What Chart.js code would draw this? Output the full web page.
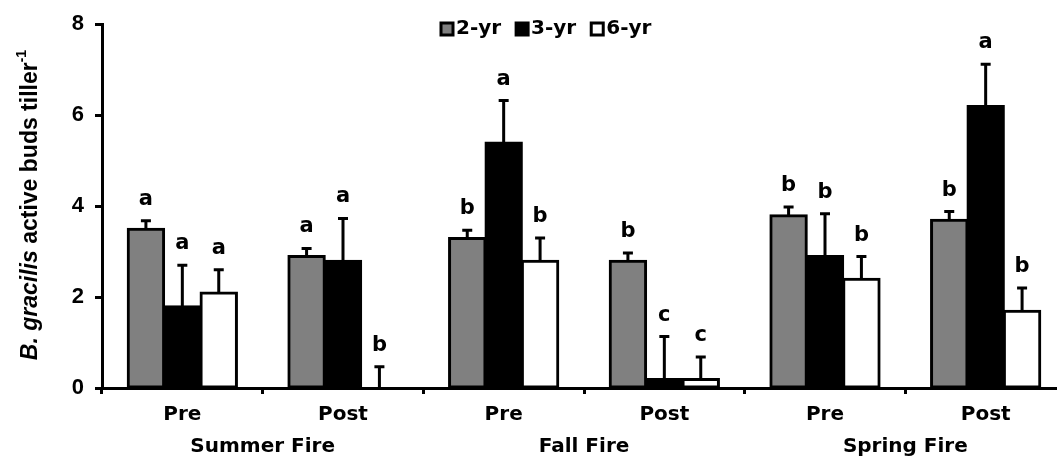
<!DOCTYPE html>
<html>
<head>
<meta charset="utf-8">
<script src="https://cdn.jsdelivr.net/npm/chart.js@4"></script>
<style>
  html, body { margin: 0; padding: 0; background: #fff; overflow: hidden; }
  #wrap { width: 1057px; height: 461px; overflow: hidden; }
</style>
</head>
<body>
<div id="wrap"><canvas id="barChart" width="1066" height="461"></canvas></div>
<script>
// category labels
const periods = ['Pre', 'Post', 'Pre', 'Post', 'Pre', 'Post'];
const fires = ['Summer Fire', 'Fall Fire', 'Spring Fire'];
const seriesNames = ['2-yr', '3-yr', '6-yr'];
const yTicks = [0, 2, 4, 6, 8];

// mean active buds per tiller
const twoYr = [3.5, 2.9, 3.3, 2.8, 3.8, 3.7];
const threeYr = [1.8, 2.8, 5.4, 0.2, 2.9, 6.2];
const sixYr = [2.1, 0, 2.8, 0.2, 2.4, 1.7];

// standard errors (upper bars only)
const twoYrErr = [0.18, 0.17, 0.17, 0.17, 0.18, 0.18];
const threeYrErr = [0.9, 0.93, 0.92, 0.93, 0.93, 0.92];
const sixYrErr = [0.5, 0.47, 0.5, 0.48, 0.49, 0.5];

// significance letters
const twoYrLetters = ['a', 'a', 'b', 'b', 'b', 'b'];
const threeYrLetters = ['a', 'a', 'a', 'c', 'b', 'a'];
const sixYrLetters = ['a', 'b', 'b', 'c', 'b', 'b'];

const errs = [twoYrErr, threeYrErr, sixYrErr];
const letters = [twoYrLetters, threeYrLetters, sixYrLetters];

// error bars + letters
const errorBars = {
  id: 'errorBars',
  afterDatasetsDraw(chart) {
    const ctx = chart.ctx;
    const y = chart.scales.y;
    ctx.save();
    chart.data.datasets.forEach((ds, i) => {
      const meta = chart.getDatasetMeta(i);
      meta.data.forEach((bar, j) => {
        const top = y.getPixelForValue(ds.data[j]);
        const end = y.getPixelForValue(ds.data[j] + errs[i][j]);
        ctx.strokeStyle = '#000';
        ctx.lineWidth = 3;
        ctx.beginPath();
        ctx.moveTo(bar.x, top);
        ctx.lineTo(bar.x, end);
        ctx.moveTo(bar.x - 5, end);
        ctx.lineTo(bar.x + 5, end);
        ctx.stroke();
        ctx.fillStyle = '#000';
        ctx.font = 'bold 21px "DejaVu Sans"';
        ctx.textAlign = 'center';
        ctx.textBaseline = 'bottom';
        ctx.fillText(letters[i][j], bar.x, end - 11);
      });
    });
    ctx.restore();
  }
};

// fire group labels, y title, legend
const extras = {
  id: 'extras',
  afterDraw(chart) {
    const ctx = chart.ctx;
    const x = chart.scales.x;
    ctx.save();
    ctx.fillStyle = '#000';
    ctx.font = 'bold 20px "DejaVu Sans"';
    ctx.textAlign = 'center';
    ctx.textBaseline = 'middle';
    fires.forEach((f, k) => {
      const cx = (x.getPixelForValue(2 * k) + x.getPixelForValue(2 * k + 1)) / 2;
      ctx.fillText(f, cx, 447);
    });

    // y axis title, italic genus name and superscript
    ctx.translate(31, 205);
    ctx.rotate(-Math.PI / 2);
    const parts = [
      ['bold italic 23px "Liberation Sans"', 'B. gracilis', 0],
      ['bold 23px "Liberation Sans"', ' active buds tiller', 0],
      ['bold 14px "Liberation Sans"', '-1', -9]
    ];
    let total = 0;
    parts.forEach(p => { ctx.font = p[0]; total += ctx.measureText(p[1]).width; });
    let px = -total / 2;
    ctx.textAlign = 'left';
    parts.forEach(p => {
      ctx.font = p[0];
      ctx.fillText(p[1], px, p[2]);
      px += ctx.measureText(p[1]).width;
    });
    ctx.restore();

    // legend inside plot
    ctx.save();
    ctx.font = 'bold 20px "DejaVu Sans"';
    ctx.textBaseline = 'middle';
    ctx.textAlign = 'left';
    let lx = 441;
    const ly = 29;
    chart.data.datasets.forEach(ds => {
      ctx.fillStyle = ds.backgroundColor;
      ctx.fillRect(lx, ly - 6, 12, 12);
      ctx.strokeStyle = '#000';
      ctx.lineWidth = 3;
      ctx.strokeRect(lx, ly - 6, 12, 12);
      ctx.fillStyle = '#000';
      ctx.fillText(ds.label, lx + 15, ly);
      lx += 15 + ctx.measureText(ds.label).width + 15;
    });
    ctx.restore();
  }
};

const ctx = document.getElementById('barChart').getContext('2d');
const chart = new Chart(ctx, {
  type: 'bar',
  data: {
    labels: periods,
    datasets: [
      { label: seriesNames[0], data: twoYr, backgroundColor: '#808080' },
      { label: seriesNames[1], data: threeYr, backgroundColor: '#000000' },
      { label: seriesNames[2], data: sixYr, backgroundColor: '#ffffff' }
    ].map(d => Object.assign(d, {
      borderColor: '#000',
      borderWidth: 3,
      borderSkipped: false,
      inflateAmount: 1,
      categoryPercentage: 0.68,
      barPercentage: 1.0
    }))
  },
  options: {
    responsive: false,
    animation: false,
    devicePixelRatio: 1,
    layout: { padding: { top: 21, left: 0, right: 0, bottom: 0 } },
    plugins: {
      legend: { display: false },
      tooltip: { enabled: false }
    },
    scales: {
      x: {
        grid: {
          offset: true,
          drawOnChartArea: false,
          drawTicks: true,
          tickLength: 6,
          tickWidth: 3,
          tickColor: '#000'
        },
        border: { color: '#000', width: 3 },
        ticks: {
          color: '#000',
          font: { family: 'DejaVu Sans', size: 20, weight: 'bold' },
          padding: 9,
          maxRotation: 0
        },
        afterFit: s => { s.height = 73; }
      },
      y: {
        min: 0,
        max: 8,
        afterBuildTicks: s => { s.ticks = yTicks.map(v => ({ value: v })); },
        grid: {
          drawOnChartArea: false,
          drawTicks: true,
          tickLength: 7,
          tickWidth: 3,
          tickColor: '#000'
        },
        border: { color: '#000', width: 3 },
        ticks: {
          color: '#000',
          font: { family: 'Liberation Sans', size: 22, weight: 'bold' },
          padding: 11
        },
        afterFit: s => { s.width = 102; }
      }
    }
  },
  plugins: [errorBars, extras]
});
</script>
</body>
</html>
